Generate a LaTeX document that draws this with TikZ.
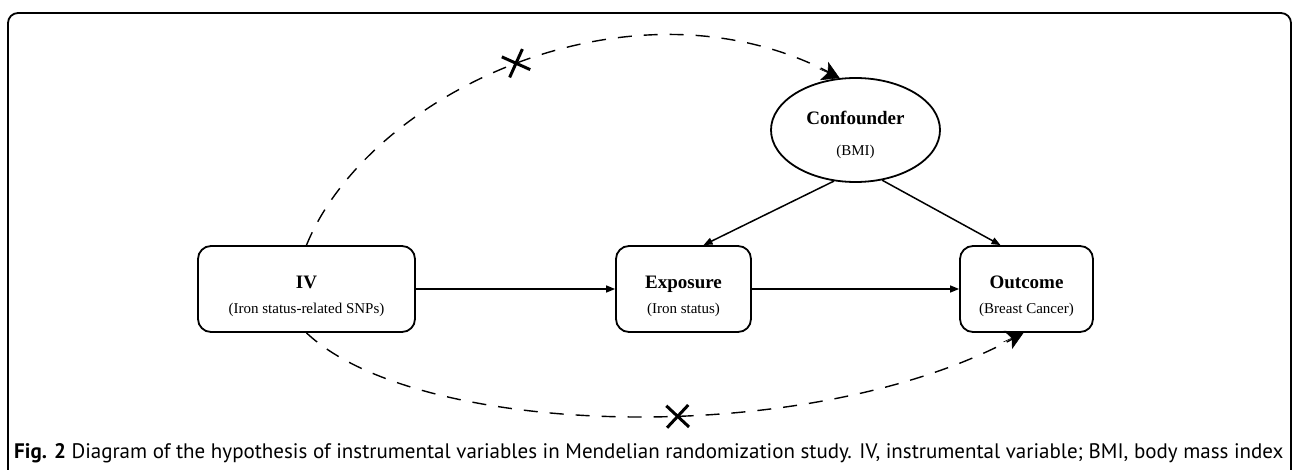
\documentclass[tikz,border=0pt]{standalone}
\usepackage{fontspec}
\setmainfont{Liberation Serif}
\newfontfamily\capfont{PT Sans}
\usetikzlibrary{arrows.meta,shapes.geometric,shapes.misc}

\tikzset{
  varbox/.style={draw,line width=1.8pt,rounded corners=13pt,align=center,inner sep=0pt,
    minimum height=86pt,font=\fontsize{19}{22}\selectfont\bfseries},
  confbox/.style={draw,ellipse,line width=1.8pt,align=center,inner sep=0pt,
    minimum width=169pt,minimum height=104pt,font=\fontsize{19}{22}\selectfont\bfseries},
  link/.style={line width=1.5pt,-{Triangle[length=9pt,width=7pt]}},
  nolink/.style={line width=1.4pt,dash pattern=on 14pt off 12pt},
  cut/.style={cross out,draw,solid,line width=3pt,minimum size=19pt,inner sep=0pt,sloped},
  tipmark/.style={solid,line width=0.6pt,-{Stealth[length=17pt,width=20pt,inset=4pt]}}
}
\newcommand{\subtxt}[1]{{\fontsize{15}{17}\selectfont\mdseries #1}}
\newcommand{\toppad}[1]{\rule{0pt}{#1}}

\begin{document}
\begin{tikzpicture}[x=1pt,y=-1pt]
  \useasboundingbox (0,0) rectangle (1292,470);
  % frame of the figure
  \draw[line width=1.8pt,rounded corners=10pt] (8,13) rectangle (1291,500);

  \node[varbox,minimum width=217pt] (iv) at (306.5,289) {\toppad{27pt}IV\\[3pt]\subtxt{(Iron status-related SNPs)}};
  \node[varbox,minimum width=135pt] (expo) at (683.5,289) {\toppad{27pt}Exposure\\[3pt]\subtxt{(Iron status)}};
  \node[varbox,minimum width=133pt] (outc) at (1026.5,289) {\toppad{27pt}Outcome\\[3pt]\subtxt{(Breast Cancer)}};
  \node[confbox] (conf) at (855.5,130) {\toppad{24pt}Confounder\\[9pt]\subtxt{(BMI)}};

  \draw[link] (iv) -- (expo);
  \draw[link] (expo) -- (outc);
  \draw[link] (conf.247) -- ([xshift=20pt]expo.north);
  \draw[link] (conf.298) -- ([xshift=-26pt]outc.north);

  % violated paths, tips drawn solid at the ends
  \coordinate (endtop) at (conf.107);
  \coordinate (endbot) at ([xshift=-3pt]outc.south);
  \draw[nolink] (iv.north) .. controls (370,90) and (640,-35) .. (endtop)
    node[cut,pos=0.49] (cuttop) {};
  \draw[nolink] (iv.south) .. controls (420,440) and (820,450) .. (endbot)
    node[cut,pos=0.555] (cutbot) {};
  \draw[tipmark] ([shift={(-20,-9)}]endtop) -- (endtop);
  \draw[tipmark] ([shift={(-20,9)}]endbot) -- (endbot);

  \node[anchor=base west,font=\capfont\fontsize{21}{24}\selectfont,inner sep=0pt] (caption) at (14,458)
    {\textbf{Fig. 2} Diagram of the hypothesis of instrumental variables in Mendelian randomization study. IV, instrumental variable; BMI, body mass index};
\end{tikzpicture}
\end{document}
